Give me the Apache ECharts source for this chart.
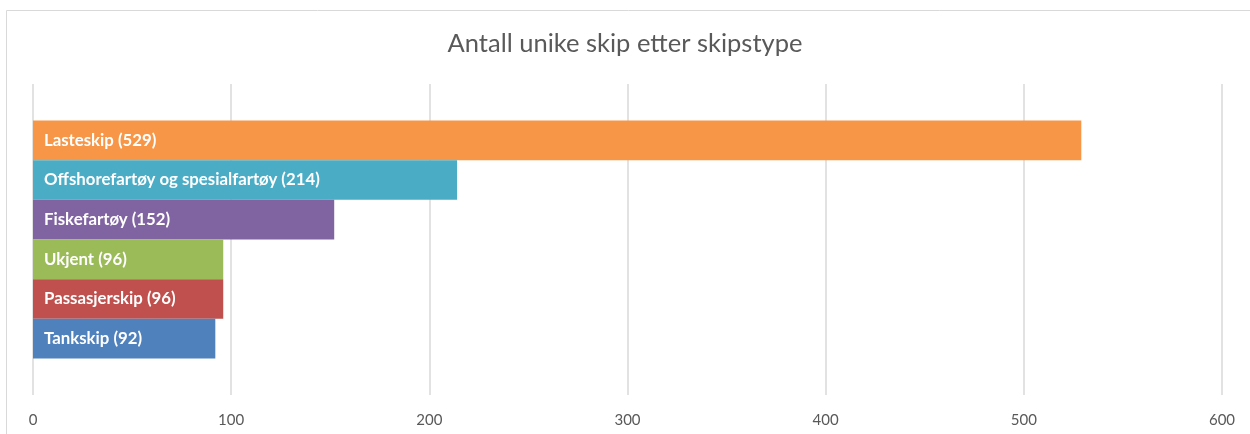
<!DOCTYPE html>
<html>
<head>
<meta charset="utf-8">
<title>Antall unike skip etter skipstype</title>
<script src="https://cdn.jsdelivr.net/npm/echarts@6/dist/echarts.min.js"></script>
<style>
  html, body { margin: 0; padding: 0; background: #fff; }
  #chart { width: 1250px; height: 434px; }
</style>
</head>
<body>
<div id="chart"></div>
<script>
// skipstyper, ovenfra og ned
const shipTypes = ["Lasteskip", "Offshorefartøy og spesialfartøy", "Fiskefartøy", "Ukjent", "Passasjerskip", "Tankskip"];
const shipCounts = [529, 214, 152, 96, 96, 92];
const barColors = ["#F79646", "#4BACC6", "#8064A2", "#9BBB59", "#C0504D", "#4F81BD"];
const xTicks = [0, 100, 200, 300, 400, 500, 600];

const chart = echarts.init(document.getElementById("chart"));

// én kategori med én serie per skipstype (som i Excel-grafen)
const series = shipTypes.map((name, i) => ({
  name: name,
  type: "bar",
  data: [shipCounts[i]],
  barGap: "0%",
  barCategoryGap: "23.5%",
  itemStyle: { color: barColors[i] },
  label: {
    show: true,
    position: "insideLeft",
    distance: 11,
    color: "#fff",
    fontFamily: "Lato",
    fontWeight: "bold",
    fontSize: 16.8,
    formatter: name + " (" + shipCounts[i] + ")",
  },
}));

chart.setOption({
  animation: false,
  title: {
    text: "Antall unike skip etter skipstype",
    left: "center",
    top: 31,
    padding: [0, 0, 0, 25],
    textStyle: { fontFamily: "Lato", fontWeight: "normal", fontSize: 25.5, color: "#595959" },
  },
  graphic: [
    {
      type: "rect",
      shape: { x: 6.5, y: 10.5, width: 1300, height: 600 },
      style: { fill: "none", stroke: "#d9d9d9", lineWidth: 1 },
      silent: true,
    },
  ],
  grid: { left: 33, right: 28, top: 84, bottom: 39, containLabel: false },
  xAxis: {
    type: "value",
    min: xTicks[0],
    max: xTicks[xTicks.length - 1],
    interval: 100,
    axisLine: { show: false },
    axisTick: { show: false },
    axisLabel: { color: "#595959", fontFamily: "Lato", fontSize: 15, margin: 18 },
    splitLine: { show: true, lineStyle: { color: "#d9d9d9", width: 1.5 } },
  },
  yAxis: {
    type: "category",
    data: ["Skip"],
    axisLine: { show: false },
    axisTick: { show: false },
    axisLabel: { show: false },
  },
  series: series,
});

window.addEventListener("resize", () => chart.resize());
</script>
</body>
</html>
